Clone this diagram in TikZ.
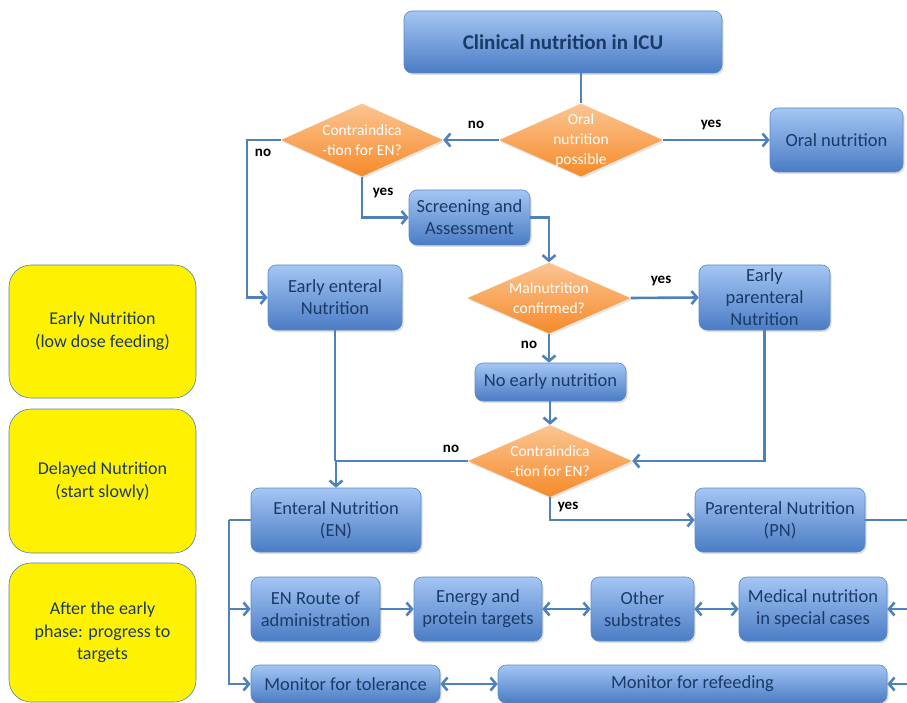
\documentclass[tikz,border=0pt]{standalone}
\usepackage{fontspec}
\setmainfont{Carlito}
\usetikzlibrary{shapes.geometric,arrows.meta,shadows}
\definecolor{boxtop}{HTML}{A4C6F4}
\definecolor{boxbot}{HTML}{4A7CC4}
\definecolor{boxline}{HTML}{5A8AC8}
\definecolor{boxtext}{HTML}{1B3A66}
\definecolor{dtop}{HTML}{FBC593}
\definecolor{dbot}{HTML}{F68A2A}
\definecolor{flow}{HTML}{4F81BD}
\begin{document}
\begin{tikzpicture}[x=1pt, y=-1pt,
        box/.style={rectangle, rounded corners=8pt, draw=boxline, line width=0.6pt,
            top color=boxtop, bottom color=boxbot, text=boxtext, align=center,
            font=\fontsize{18.5}{22}\selectfont, inner sep=1pt,
            drop shadow={shadow xshift=1.5pt, shadow yshift=-2pt, opacity=0.25}},
        decision/.style={diamond, aspect=2.2, inner sep=-8pt, draw=none,
            top color=dtop, bottom color=dbot, text=white, align=center,
            font=\fontsize{15.5}{20}\selectfont,
            drop shadow={shadow xshift=1.5pt, shadow yshift=-2pt, opacity=0.2}},
        phase/.style={rectangle, rounded corners=22pt, draw=flow, line width=0.6pt,
            fill=yellow, text=boxtext, align=center, minimum width=187pt,
            font=\fontsize{18}{22.5}\selectfont},
        answer/.style={font=\bfseries\fontsize{15}{17}\selectfont, text=black, inner sep=0pt},
        link/.style={draw=flow, line width=2.6pt},
        arrow/.style={link, -{Straight Barb[length=5.5pt, width=13pt]}},
        both/.style={link, {Straight Barb[length=5.5pt, width=13pt]}-{Straight Barb[length=5.5pt, width=13pt]}}
    ]
        \useasboundingbox (0,0) rectangle (907,703);
        \clip (0,0) rectangle (907,703);

        % Phases
        \node[phase, minimum height=133pt] (early) at (102.5,331.5) {Early Nutrition\\(low dose feeding)};
        \node[phase, minimum height=144pt] (delayed) at (102.5,481) {Delayed Nutrition\\(start slowly)};
        \node[phase, minimum height=139pt] (after) at (102.5,632.5) {After the early\\phase: progress to\\targets};

        % Top decisions
        \node[box, minimum width=318pt, minimum height=62pt, font=\bfseries\fontsize{21}{24}\selectfont] (icu) at (563,42) {Clinical nutrition in ICU};
        \node[decision, minimum width=164pt, minimum height=73pt] (oral) at (581,140) {Oral\\nutrition\\possible};
        \node[decision, minimum width=162pt, minimum height=73pt] (contra1) at (362,140) {Contraindica\\-tion for EN?};
        \node[box, minimum width=133pt, minimum height=64pt] (oralnut) at (836.5,140) {Oral nutrition};
        \draw[link] (icu.south -| oral.north) -- (oral.north);
        \draw[arrow] (oral.west) -- (contra1.east);
        \draw[arrow] (oral.east) -- (oralnut.west);
        \node[answer] (no1) at (476,125) {no};
        \node[answer] (yes1) at (711,125) {yes};

        % Screening
        \node[box, minimum width=121pt, minimum height=55pt] (screen) at (469.5,217.5) {Screening and\\Assessment};
        \node[box, minimum width=134pt, minimum height=65pt] (eenteral) at (335,297.5) {Early enteral\\Nutrition};
        \node[decision, minimum width=163pt, minimum height=71pt] (malnut) at (549,298) {Malnutrition\\confirmed?};
        \node[box, minimum width=131pt, minimum height=65pt] (eparent) at (764.5,297.5) {Early\\parenteral\\Nutrition};
        \node[box, minimum width=151pt, minimum height=38pt] (noearly) at (550.5,382) {No early nutrition};
        \coordinate (lbend) at (247,140);
        \draw[arrow] (contra1.west) -- (lbend) |- (eenteral.west);
        \draw[arrow] (contra1.south) |- (screen.west);
        \draw[arrow] (screen.east) -| (malnut.north);
        \draw[arrow] (malnut.east) -- (eparent.west);
        \draw[arrow] (malnut.south) -- (malnut.south |- noearly.north);
        \node[answer] (no2) at (263,153) {no};
        \node[answer] (yes2) at (383,193) {yes};
        \node[answer] (yes3) at (661,281) {yes};
        \node[answer] (no3) at (529,345) {no};

        % Second decision
        \node[decision, minimum width=164pt, minimum height=72pt] (contra2) at (550,461) {Contraindica\\-tion for EN?};
        \node[box, minimum width=170pt, minimum height=64pt] (en) at (336,520) {Enteral Nutrition\\(EN)};
        \node[box, minimum width=170pt, minimum height=64pt] (pn) at (780,520) {Parenteral Nutrition\\(PN)};
        \draw[arrow] (noearly.south -| contra2.north) -- (contra2.north);
        \draw[arrow] (eparent.south) |- (contra2.east);
        \draw[arrow] (contra2.west) -| (en.north);
        \draw[link] (eenteral.south) -- (eenteral.south |- contra2.west);
        \draw[arrow] (contra2.south) |- (pn.west);
        \node[answer] (no4) at (451,449) {no};
        \node[answer] (yes4) at (568,507) {yes};

        % Progress to targets
        \node[box, minimum width=129pt, minimum height=64pt] (route) at (315.5,609) {EN Route of\\administration};
        \node[box, minimum width=128pt, minimum height=64pt] (energy) at (478,609) {Energy and\\protein targets};
        \node[box, minimum width=103pt, minimum height=64pt] (other) at (642.5,609) {Other\\substrates};
        \node[box, minimum width=148pt, minimum height=64pt] (medical) at (813,609) {Medical nutrition\\in special cases};
        \node[box, minimum width=189pt, minimum height=38pt] (toler) at (345.5,684) {Monitor for tolerance};
        \node[box, minimum width=389pt, minimum height=38pt] (refeed) at (692.5,684) {Monitor for refeeding};
        \coordinate (ltrunk) at (229,520);
        \coordinate (rtrunk) at (914,520);
        \draw[link] (en.west) -- (ltrunk);
        \draw[arrow] (ltrunk) |- (route.west);
        \draw[arrow] (ltrunk) |- (toler.west);
        \draw[link] (pn.east) -- (rtrunk);
        \draw[arrow] (rtrunk) |- (medical.east);
        \draw[arrow] (rtrunk) |- (refeed.east);
        \draw[arrow] (route) -- (energy);
        \draw[both] (energy) -- (other);
        \draw[both] (other) -- (medical);
        \draw[both] (toler) -- (refeed);
\end{tikzpicture}
\end{document}
